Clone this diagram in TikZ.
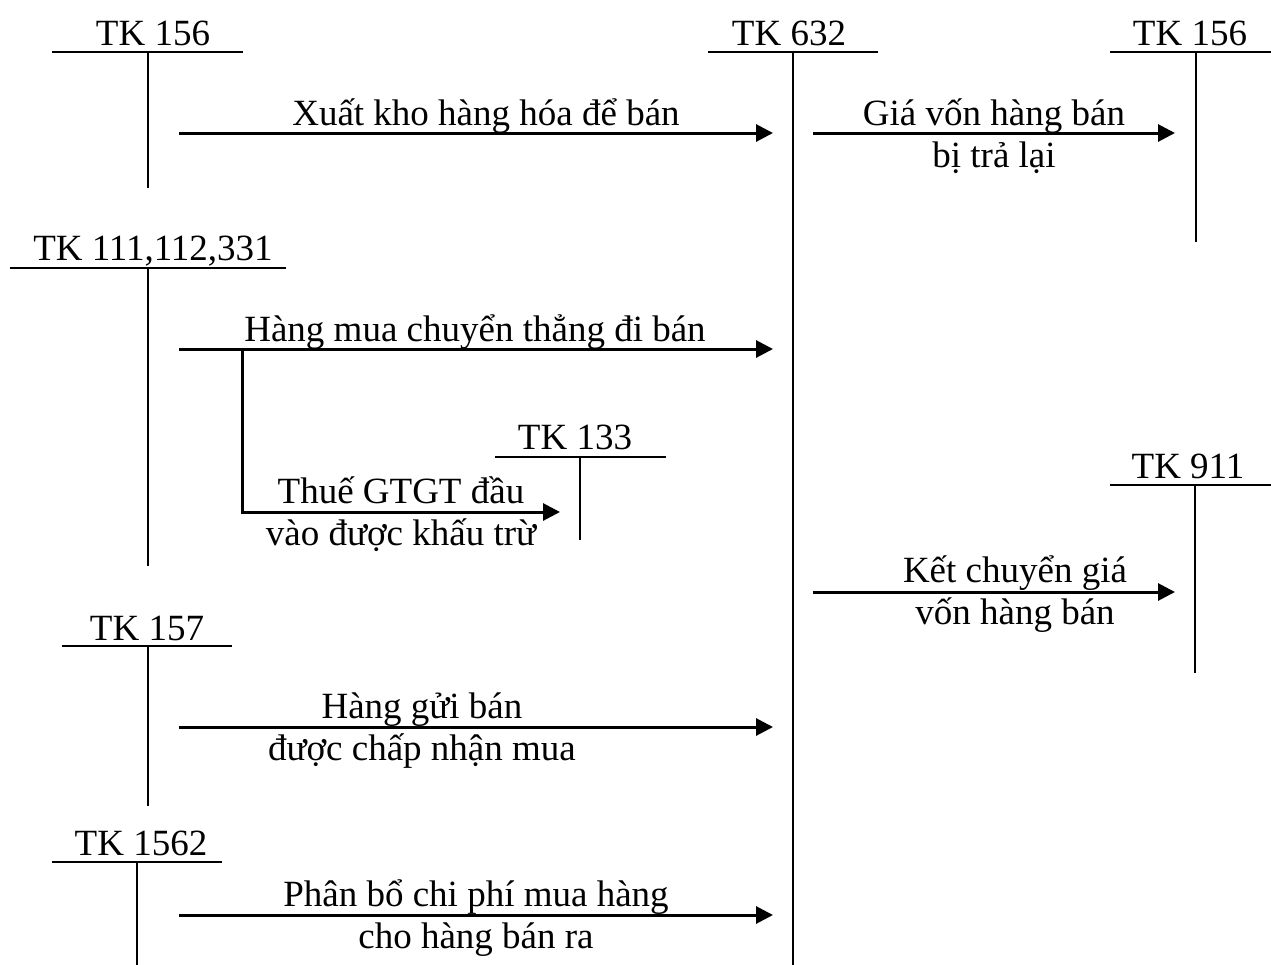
\documentclass[tikz,border=0pt]{standalone}
\usepackage{fontspec}
\setmainfont{Liberation Serif}
\usetikzlibrary{arrows.meta}
\tikzset{
  acct/.style={line width=0.9pt},
  post/.style={-{Triangle[length=8.5pt,width=8.5pt]}, line width=1.5pt},
  title/.style={anchor=base, inner sep=0pt},
  memo/.style={anchor=base, inner sep=0pt, align=center},
}

\begin{document}
\begin{tikzpicture}[x=0.5pt, y=-0.5pt, font=\fontsize{18.5}{20.75}\selectfont]
  \useasboundingbox (0,0) rectangle (1271,965);
  % T accounts
  \node[title] (tk156a) at (153,45) {TK 156};
  \draw[acct] (52,52) -- (243,52) (148,52) -- (148,188);
  \node[title] (tk632) at (789,45) {TK 632};
  \draw[acct] (708,52) -- (878,52) (793,52) -- (793,965);
  \node[title] (tk156b) at (1190,45) {TK 156};
  \draw[acct] (1110,52) -- (1271,52) (1196,52) -- (1196,242);
  \node[title] (tk111) at (153,260) {TK 111,112,331};
  \draw[acct] (10,268) -- (286,268) (148,268) -- (148,566);
  \node[title] (tk133) at (575,449) {TK 133};
  \draw[acct] (495,457) -- (666,457) (580,457) -- (580,540);
  \node[title] (tk911) at (1188,478) {TK 911};
  \draw[acct] (1110,485) -- (1271,485) (1195,485) -- (1195,673);
  \node[title] (tk157) at (147,640) {TK 157};
  \draw[acct] (62,646) -- (232,646) (148,646) -- (148,806);
  \node[title] (tk1562) at (141,855) {TK 1562};
  \draw[acct] (52,862) -- (222,862) (137,862) -- (137,965);
  % ends of the postings
  \coordinate (s1) at (179,133);  \coordinate (e1) at (773,133);
  \coordinate (s2) at (813,133);  \coordinate (e2) at (1175,133);
  \coordinate (s3) at (179,349);  \coordinate (e3) at (773,349);
  \coordinate (s4) at (242,349);  \coordinate (e4) at (560,512);
  \coordinate (s5) at (813,592);  \coordinate (e5) at (1175,592);
  \coordinate (s6) at (179,727);  \coordinate (e6) at (773,727);
  \coordinate (s7) at (179,915);  \coordinate (e7) at (773,915);
  % postings
  \draw[post] (s1) -- (e1);
  \node[memo] (m1) at (486,125) {Xuất kho hàng hóa để bán};
  \draw[post] (s2) -- (e2);
  \node[memo] (m2) at (994,167) {Giá vốn hàng bán\\bị trả lại};
  \draw[post] (s3) -- (e3);
  \node[memo] (m3) at (475,341) {Hàng mua chuyển thẳng đi bán};
  \draw[post] (s4) |- (e4);
  \node[memo] (m4) at (401,545) {Thuế GTGT đầu\\vào được khấu trừ};
  \draw[post] (s5) -- (e5);
  \node[memo] (m5) at (1015,624) {Kết chuyển giá\\vốn hàng bán};
  \draw[post] (s6) -- (e6);
  \node[memo] (m6) at (422,760) {Hàng gửi bán\\được chấp nhận mua};
  \draw[post] (s7) -- (e7);
  \node[memo] (m7) at (476,948) {Phân bổ chi phí mua hàng\\cho hàng bán ra};
\end{tikzpicture}
\end{document}
